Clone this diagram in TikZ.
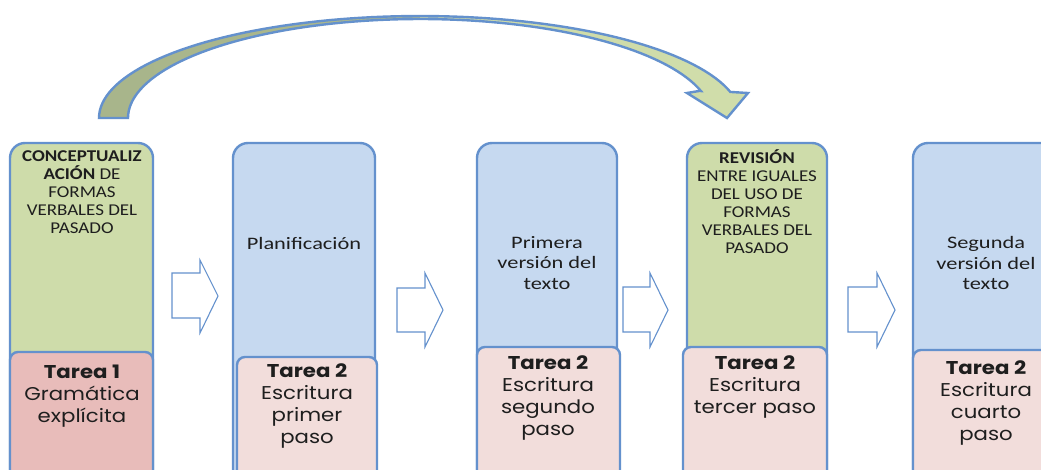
\documentclass[tikz,border=0pt]{standalone}
\usepackage{fontspec}
\setmainfont{Carlito}
\newfontfamily\capsfont[FakeStretch=1.15]{Carlito}
\newfontfamily\lowfont[FakeStretch=1.28]{Carlito}
\newfontfamily\gothic[FakeStretch=1.15]{Poppins}
\definecolor{bord}{RGB}{100,145,205}
\definecolor{grn}{RGB}{206,220,170}
\definecolor{blu}{RGB}{198,217,240}
\definecolor{pnk}{RGB}{242,221,219}
\definecolor{pnkd}{RGB}{232,188,186}
\definecolor{arrL}{RGB}{168,181,139}
\definecolor{arrR}{RGB}{208,221,170}
\definecolor{txt}{RGB}{30,30,30}
\tikzset{
  colbox/.style={draw=bord, line width=2.4pt, rounded corners=15pt},
  lowbox/.style={draw=bord, line width=2.4pt, rounded corners=8pt},
  blockarrow/.style={draw=bord, line width=1.1pt, fill=white, line join=miter},
  toptext/.style={align=center, text=txt, inner sep=0pt, font=\capsfont\fontsize{16.5}{18}\selectfont},
  toptextb/.style={align=center, text=txt, inner sep=0pt, font=\lowfont\fontsize{17.5}{20.5}\selectfont},
  lowtext/.style={align=center, text=txt, inner sep=0pt, font=\gothic\fontsize{18.5}{22}\selectfont},
}
\begin{document}
\begin{tikzpicture}[x=1pt,y=-1pt]
\useasboundingbox (0,0) rectangle (1041,469);
\clip (0,0) rectangle (1041,469);
\fill[white] (0,0) rectangle (1041,469);

% curved arrow: left (darker) half
\begin{scope}
  \clip (0,0) rectangle (420,140);
  \shade[left color=arrL, right color=arrL!85!arrR]
  plot[domain=180:14.8, samples=80] ({420+321*cos(\x)},{118-102*sin(\x)})
  -- (748,93) -- (727,118) -- (687,93) -- (699,91)
  -- plot[domain=15.8:180, samples=80] ({420+292*cos(\x)},{118-99*sin(\x)})
  -- cycle;
\end{scope}
% curved arrow: right (lighter) half
\begin{scope}
  \clip (420,0) rectangle (800,140);
  \shade[left color=arrR!90!arrL, right color=arrR]
  plot[domain=180:14.8, samples=80] ({420+321*cos(\x)},{118-102*sin(\x)})
  -- (748,93) -- (727,118) -- (687,93) -- (699,91)
  -- plot[domain=15.8:180, samples=80] ({420+292*cos(\x)},{118-99*sin(\x)})
  -- cycle;
\end{scope}
% curved arrow outline
\draw[draw=bord, line width=2.4pt, line join=miter]
  plot[domain=180:14.8, samples=80] ({420+321*cos(\x)},{118-102*sin(\x)})
  -- (748,93) -- (727,118) -- (687,93) -- (699,91)
  -- plot[domain=15.8:180, samples=80] ({420+292*cos(\x)},{118-99*sin(\x)})
  -- cycle;

% column 1
\draw[colbox, fill=grn] (10,480) -- (10,143) -- (153,143) -- (153,480);
\draw[lowbox, fill=pnkd] (10,490) -- (10,352) -- (153,352) -- (153,490) -- cycle;
% column 2
\draw[colbox, fill=blu] (233,480) -- (233,143) -- (375,143) -- (375,480);
\draw[lowbox, fill=pnk] (237,490) -- (237,357) -- (377,357) -- (377,490) -- cycle;
% column 3
\draw[colbox, fill=blu] (477,480) -- (477,143) -- (617,143) -- (617,480);
\draw[lowbox, fill=pnk] (477,490) -- (477,347) -- (620,347) -- (620,490) -- cycle;
% column 4
\draw[colbox, fill=grn] (687,480) -- (687,143) -- (827,143) -- (827,480);
\draw[lowbox, fill=pnk] (683,490) -- (683,347) -- (827,347) -- (827,490) -- cycle;
% column 5
\draw[colbox, fill=blu] (913,480) -- (913,143) -- (1060,143) -- (1060,480);
\draw[lowbox, fill=pnk] (913,490) -- (913,350) -- (1060,350) -- (1060,490) -- cycle;

% block arrows
\draw[blockarrow] (172,273) -- (200,273) -- (200,260) -- (218,296) -- (200,333) -- (200,318) -- (172,318) -- cycle;
\draw[blockarrow] (397,288) -- (425,288) -- (425,273) -- (443,310) -- (425,347) -- (425,332) -- (397,332) -- cycle;
\draw[blockarrow] (623,287) -- (650,287) -- (650,273) -- (668,310) -- (650,347) -- (650,332) -- (623,332) -- cycle;
\draw[blockarrow] (848,287) -- (877,287) -- (877,273) -- (895,310) -- (877,347) -- (877,332) -- (848,332) -- cycle;

% top texts
\node[toptext] (t1) at (82,192) {\textbf{CONCEPTUALIZ}\\\textbf{ACIÓN} DE\\FORMAS\\VERBALES DEL\\PASADO};
\node[toptextb] (t2) at (304,243) {Planificación};
\node[toptextb] (t3) at (547,263) {Primera\\versión del\\texto};
\node[toptext] (t4) at (757,202) {\textbf{REVISIÓN}\\ENTRE IGUALES\\DEL USO DE\\FORMAS\\VERBALES DEL\\PASADO};
\node[toptextb] (t5) at (986,263) {Segunda\\versión del\\texto};

% bottom texts
\node[lowtext] (b1) at (82,396) {\textbf{Tarea 1}\\Gramática\\explícita};
\node[lowtext] (b2) at (307,406) {\textbf{Tarea 2}\\Escritura\\primer\\paso};
\node[lowtext] (b3) at (548,398) {\textbf{Tarea 2}\\Escritura\\segundo\\paso};
\node[lowtext] (b4) at (755,387) {\textbf{Tarea 2}\\Escritura\\tercer paso};
\node[lowtext] (b5) at (986,403) {\textbf{Tarea 2}\\Escritura\\cuarto\\paso};
\end{tikzpicture}
\end{document}
